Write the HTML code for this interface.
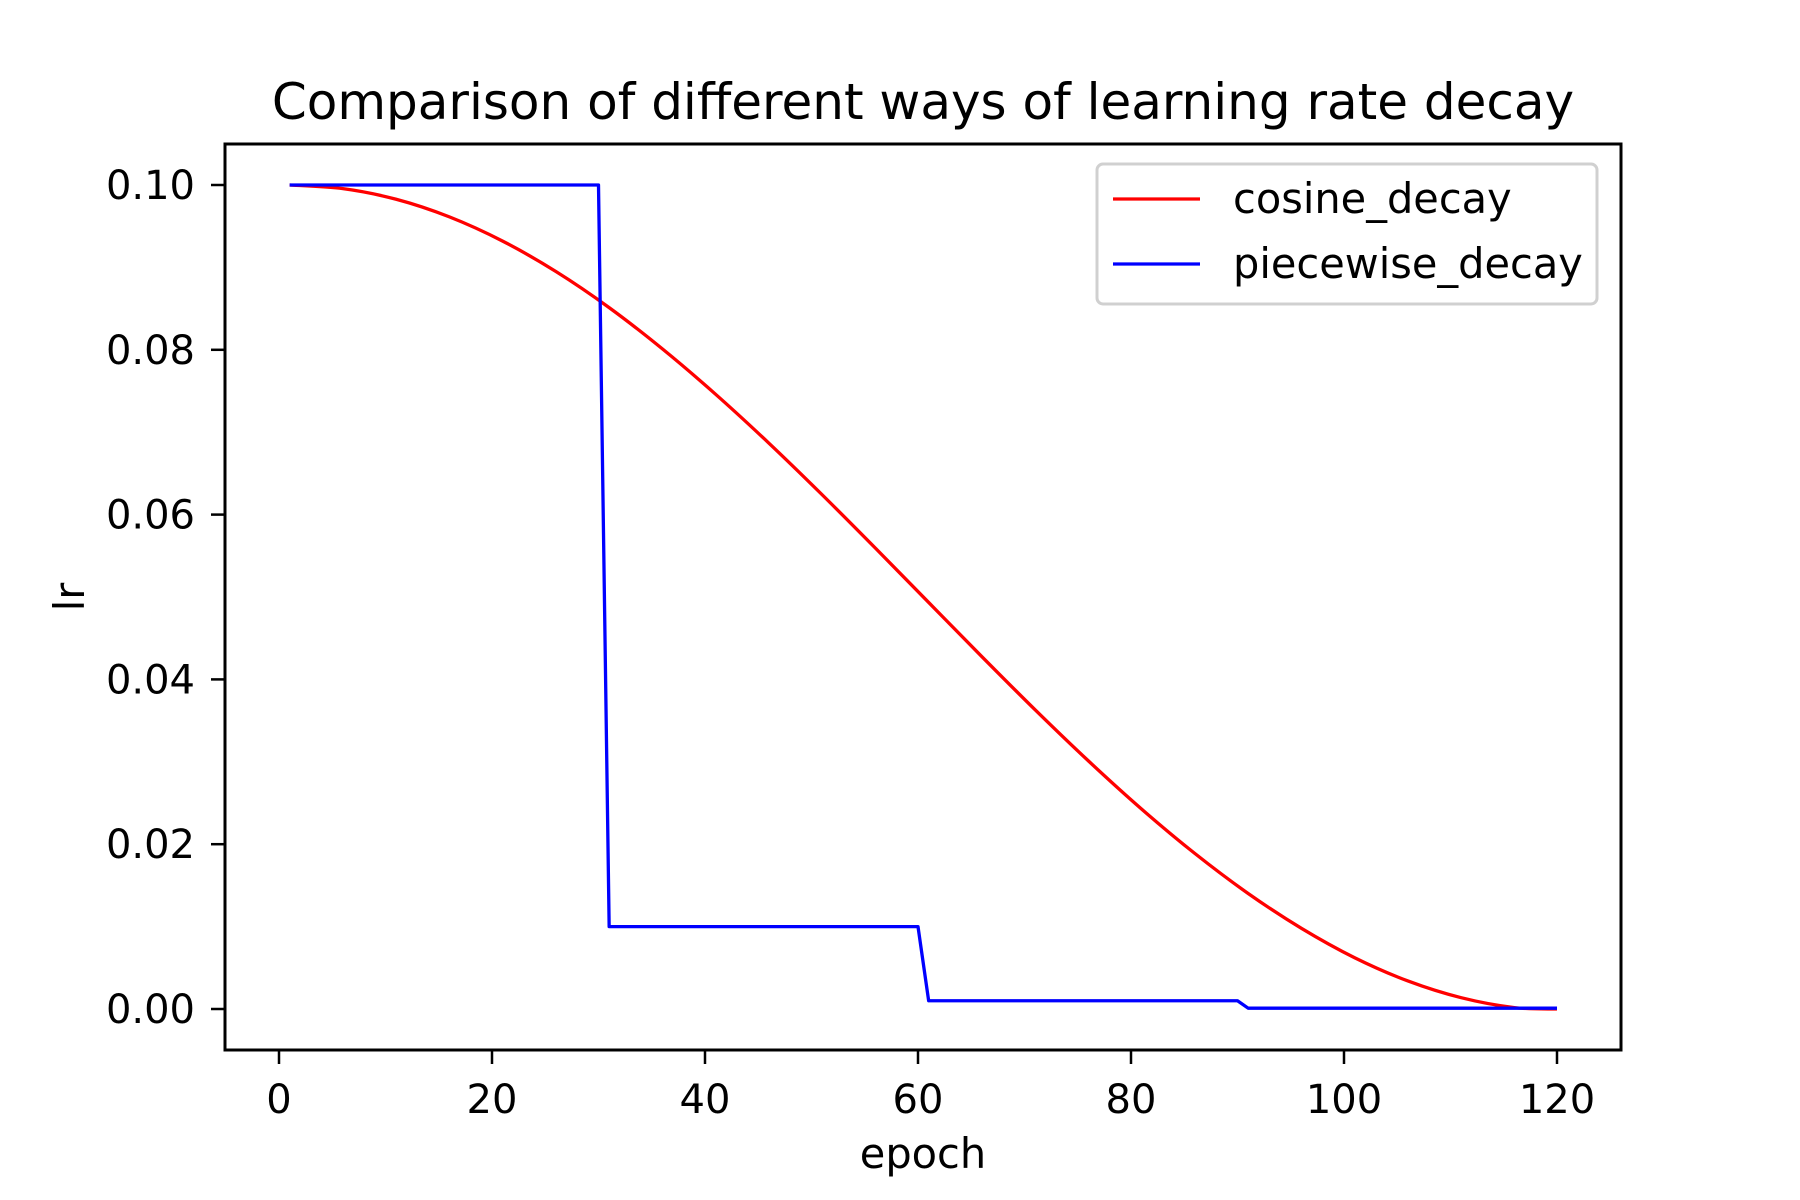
<!DOCTYPE html>
<html><head><meta charset="utf-8"><style>
html,body{margin:0;padding:0;background:#fff;}
svg{display:block;font-family:"DejaVu Sans","Liberation Sans",sans-serif;}
</style></head><body>
<svg id="chart" width="1800" height="1200" viewBox="0 0 1800 1200" xmlns="http://www.w3.org/2000/svg">
<rect width="1800" height="1200" fill="#fff"/>
<text x="923" y="119" font-size="50" text-anchor="middle">Comparison of different ways of learning rate decay</text>
<g id="ticks"></g>
<g id="series"></g>
<rect x="225" y="144" width="1396" height="906" fill="none" stroke="#000" stroke-width="3"/>
<text x="923" y="1168" font-size="41.5" text-anchor="middle">epoch</text>
<text transform="translate(84,597) rotate(-90)" font-size="41.5" text-anchor="middle">lr</text>
<g>
<rect x="1097" y="164" width="500" height="140" rx="6" fill="#fff" fill-opacity="0.8" stroke="#d0d0d0" stroke-width="3"/>
<line x1="1113" y1="199" x2="1200" y2="199" stroke="#ff0000" stroke-width="3.3"/>
<text x="1233" y="213" font-size="41.5">cosine_decay</text>
<line x1="1113" y1="264" x2="1200" y2="264" stroke="#0000ff" stroke-width="3.3"/>
<text x="1233" y="278" font-size="41.5">piecewise_decay</text>
</g>
</svg>
<script>
const xTicks = [0,20,40,60,80,100,120];
const yTicks = [0,0.02,0.04,0.06,0.08,0.10];
const yTickLabels = ["0.00","0.02","0.04","0.06","0.08","0.10"];
const cosineEpochs = [1,6,11,16,21,26,31,36,41,46,51,56,61,66,71,76,81,86,91,96,101,106,111,116,120];
const cosineValues = [0.1,0.09956,0.09827,0.09613,0.09319,0.0895,0.08512,0.08011,0.0746,0.06867,0.06241,0.05593,0.04934,0.04276,0.03631,0.03011,0.02426,0.01887,0.01402,0.00979,0.00622,0.0034,0.00137,0.00017,0];
const piecewiseEpochs = [1,30,31,60,61,90,91,120];
const piecewiseValues = [0.1,0.1,0.01,0.01,0.001,0.001,0.0001,0.0001];

const NS = "http://www.w3.org/2000/svg";
const xS = v => 279 + (v - 0) * (1557 - 279) / 120;
const yS = v => 1009 - v * (1009 - 185) / 0.1;
const tg = document.getElementById('ticks');
xTicks.forEach(t => {
  const l = document.createElementNS(NS,'line');
  
  
  l.setAttribute('x1', xS(t)); l.setAttribute('x2', xS(t));
  l.setAttribute('y1', 1050); l.setAttribute('y2', 1064);
  l.setAttribute('stroke', '#000'); l.setAttribute('stroke-width', 2.5);
  tg.appendChild(l);
  const tx = document.createElementNS(NS,'text');
  
  
  tx.setAttribute('x', xS(t)); tx.setAttribute('y', 1113);
  tx.setAttribute('font-size', 40); tx.setAttribute('text-anchor', 'middle');
  tx.textContent = String(t);
  tg.appendChild(tx);
});
yTicks.forEach((t, i) => {
  const l = document.createElementNS(NS,'line');
  
  
  l.setAttribute('x1', 211); l.setAttribute('x2', 225);
  l.setAttribute('y1', yS(t)); l.setAttribute('y2', yS(t));
  l.setAttribute('stroke', '#000'); l.setAttribute('stroke-width', 2.5);
  tg.appendChild(l);
  const tx = document.createElementNS(NS,'text');
  
  
  tx.setAttribute('x', 195); tx.setAttribute('y', yS(t) + 14);
  tx.setAttribute('font-size', 40); tx.setAttribute('text-anchor', 'end');
  tx.textContent = yTickLabels[i];
  tg.appendChild(tx);
});
const sg = document.getElementById('series');
function addLine(xs, ys, color, name, smooth) {
  const pts = xs.map((x, i) => [xS(x), yS(ys[i])]);
  let d = 'M' + pts[0][0].toFixed(2) + ',' + pts[0][1].toFixed(2);
  for (let i = 0; i < pts.length - 1; i++) {
    if (!smooth) { d += ' L' + pts[i+1][0].toFixed(2) + ',' + pts[i+1][1].toFixed(2); continue; }
    const p0 = pts[Math.max(0, i-1)], p1 = pts[i], p2 = pts[i+1], p3 = pts[Math.min(pts.length-1, i+2)];
    const c1 = [p1[0] + (p2[0]-p0[0])/6, p1[1] + (p2[1]-p0[1])/6];
    const c2 = [p2[0] - (p3[0]-p1[0])/6, p2[1] - (p3[1]-p1[1])/6];
    d += ' C' + c1.map(v=>v.toFixed(2)).join(',') + ' ' + c2.map(v=>v.toFixed(2)).join(',') + ' ' + p2.map(v=>v.toFixed(2)).join(',');
  }
  const p = document.createElementNS(NS,'path');
  
  
  p.setAttribute('d', d);
  p.setAttribute('fill', 'none'); p.setAttribute('stroke', color);
  p.setAttribute('stroke-width', 3.3); p.setAttribute('stroke-linejoin', 'round');
  sg.appendChild(p);
}
addLine(cosineEpochs, cosineValues, '#ff0000', 'cosine-decay-line', true);
addLine(piecewiseEpochs, piecewiseValues, '#0000ff', 'piecewise-decay-line', false);
</script>
</body></html>
